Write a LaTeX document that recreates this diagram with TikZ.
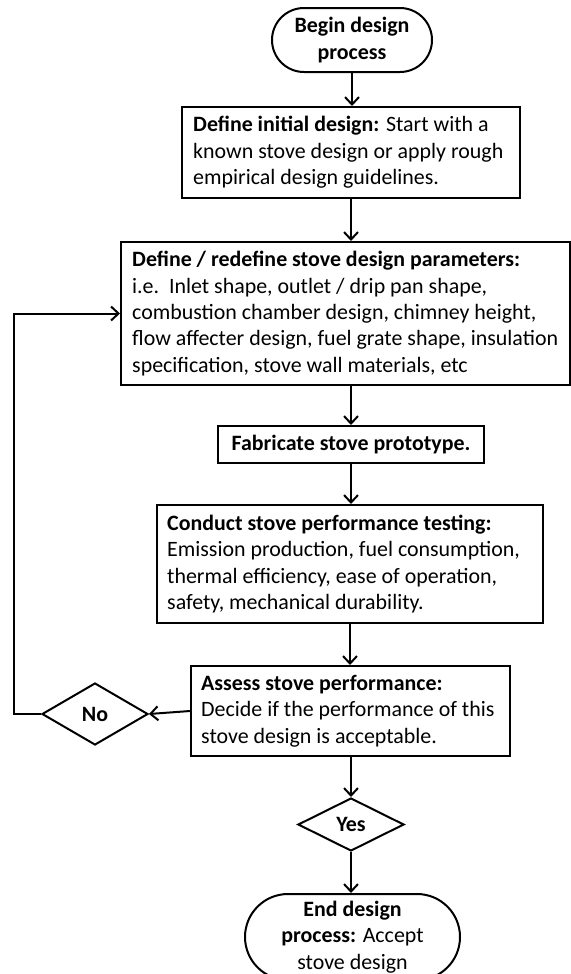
\documentclass[tikz,border=0pt]{standalone}
\usepackage{fontspec}
\setmainfont{Carlito}
\usetikzlibrary{arrows.meta,shapes.geometric,shapes.misc}
\begin{document}
\begin{tikzpicture}[x=1bp,y=-1bp,
  every node/.style={font=\fontsize{22}{26.5}\selectfont},
  ln/.style={line width=2bp},
  arr/.style={ln,-{Straight Barb[length=7.5bp,width=14bp,line width=2bp]}},
  box/.style={draw,ln,rectangle,inner sep=0pt},
  txt/.style={align=left,inner sep=0pt,anchor=west},
  term/.style={draw,ln,rounded rectangle,align=center,inner sep=0pt},
  dec/.style={draw,ln,diamond,inner sep=0pt,font=\fontsize{22}{26.5}\selectfont\bfseries}
]
\useasboundingbox (0,0) rectangle (571,974);

\node[term,minimum width=160bp,minimum height=64bp] (begin) at (352,40) {\textbf{Begin design}\\\textbf{process}};

\node[box,minimum width=338bp,minimum height=91bp] (def) at (351,152.5) {};
\node[txt] (deft) at ([xshift=12bp]def.west)
 {\textbf{Define initial design:} Start with a\\known stove design or apply rough\\empirical design guidelines.};

\node[box,minimum width=449bp,minimum height=143bp] (par) at (345.5,313.5) {};
\node[txt] (part) at ([xshift=12bp]par.west)
 {\textbf{Define / redefine stove design parameters:}\\i.e.\ \ Inlet shape, outlet / drip pan shape,\\combustion chamber design, chimney height,\\flow affecter design, fuel grate shape, insulation\\specification, stove wall materials, etc};

\node[box,minimum width=266bp,minimum height=37bp] (fab) at (351,444.5)
 {\textbf{Fabricate stove prototype.}};

\node[box,minimum width=386bp,minimum height=118bp] (test) at (350,564) {};
\node[txt] (testt) at ([xshift=11bp]test.west)
 {\textbf{Conduct stove performance testing:}\\Emission production, fuel consumption,\\thermal efficiency, ease of operation,\\safety, mechanical durability.};

\node[box,minimum width=319bp,minimum height=90bp] (assess) at (350.5,711) {};
\node[txt] (assesst) at ([xshift=11bp]assess.west)
 {\textbf{Assess stove performance:}\\Decide if the performance of this\\stove design is acceptable.};

\node[dec,minimum width=106bp,minimum height=62bp] (no) at (95,714) {No};
\node[dec,minimum width=106bp,minimum height=53bp] (yes) at (351,824.5) {Yes};

\node[term,minimum width=215bp,minimum height=86bp] (end) at (352.5,937)
 {\textbf{End design}\\\textbf{process:} Accept\\stove design};

\coordinate (lp) at (14,714);

\draw[arr] (begin.south) -- (begin.south |- def.north);
\draw[arr] (def.south) -- (def.south |- par.north);
\draw[arr] (fab.north |- par.south) -- (fab.north);
\draw[arr] (fab.south) -- (fab.south |- test.north);
\draw[arr] (test.south) -- (test.south |- assess.north);
\draw[arr] (yes.north |- assess.south) -- (yes.north);
\draw[arr] (yes.south) -- (yes.south |- end.north);
\draw[arr] (assess.west) -- (no.east);
\draw[arr] (no.west) -- (lp) |- (par.west);
\end{tikzpicture}
\end{document}
